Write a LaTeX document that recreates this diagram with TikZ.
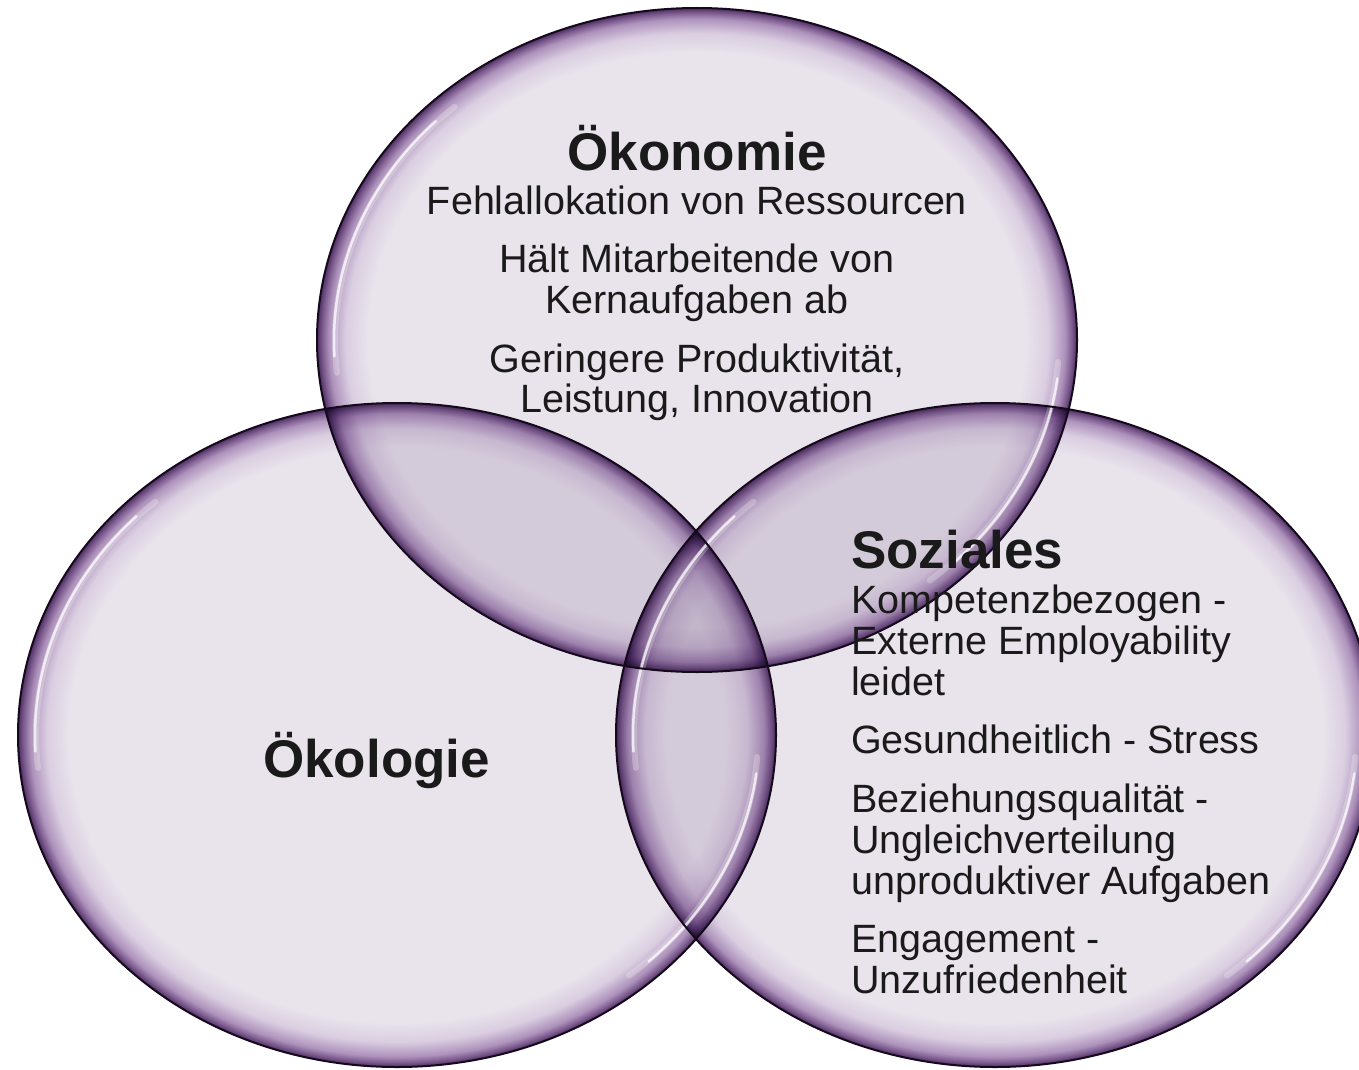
\documentclass[tikz,border=0pt]{standalone}
\usepackage{fontspec}
\setmainfont{Liberation Sans}
\definecolor{vlight}{HTML}{E9E4EC}
\definecolor{glowa}{HTML}{DACEE1}
\definecolor{glowb}{HTML}{AE92BC}
\definecolor{glowd}{HTML}{77578A}
\definecolor{glowc}{HTML}{4E2D62}
\definecolor{rimc}{HTML}{150A1C}
\definecolor{txtc}{HTML}{1A1A1A}
\pgfdeclareradialshading{ringglow}{\pgfpoint{0bp}{0bp}}{color(0bp)=(vlight); color(21.6bp)=(vlight); color(23.1bp)=(glowa); color(24.2bp)=(glowb); color(24.7bp)=(glowd); color(25bp)=(glowc); color(50bp)=(glowc)}
\begin{document}
\begin{tikzpicture}[x=1pt,y=-1pt,
  bubble/.style={shading=ringglow, blend mode=multiply},
  rim/.style={draw=rimc, line width=2pt},
  hl/.style={draw=white, line width=2.5pt, line cap=round, opacity=0.75},
  hlsoft/.style={draw=white, line width=6pt, line cap=round, opacity=0.25},
  title/.style={font=\fontsize{53pt}{55pt}\selectfont\bfseries, text=txtc, inner sep=0pt, anchor=base},
  body/.style={font=\fontsize{39.5pt}{41pt}\selectfont, text=txtc, inner sep=0pt, anchor=base},
  bodyw/.style={body, anchor=base west},
  titlew/.style={title, anchor=base west}]
\fill[white] (0,0) rectangle (1359,1070);
\useasboundingbox (0,0) rectangle (1359,1070);
% bubbles
\path[bubble] (697,340) ellipse [x radius=380pt, y radius=332pt];
\path[bubble] (397,735) ellipse [x radius=379pt, y radius=332pt];
\path[bubble] (995,735) ellipse [x radius=379pt, y radius=332pt];
% highlights
\foreach \cx/\cy/\rx in {697/340/380, 397/735/379, 995/735/379}{
  \begin{scope}[shift={(\cx,\cy)}]
    \draw[hlsoft] (132:\rx pt-18pt and 314pt) arc[start angle=132, end angle=186, x radius=\rx pt-18pt, y radius=314pt];
    \draw[hl] (136:\rx pt-17pt and 315pt) arc[start angle=136, end angle=183, x radius=\rx pt-17pt, y radius=315pt];
    \draw[hlsoft] (-4:\rx pt-18pt and 314pt) arc[start angle=-4, end angle=-50, x radius=\rx pt-18pt, y radius=314pt];
    \draw[hl] (-7:\rx pt-17pt and 315pt) arc[start angle=-7, end angle=-46, x radius=\rx pt-17pt, y radius=315pt];
  \end{scope}
}
% rims
\draw[rim] (697,340) ellipse [x radius=380pt, y radius=332pt];
\draw[rim] (397,735) ellipse [x radius=379pt, y radius=332pt];
\draw[rim] (995,735) ellipse [x radius=379pt, y radius=332pt];
% Oekonomie
\node[title] (oktitle) at (697,170) {Ökonomie};
\node[body] (ok1) at (697,214) {Fehlallokation von Ressourcen};
\node[body] (ok2a) at (697,272) {Hält Mitarbeitende von};
\node[body] (ok2b) at (697,313) {Kernaufgaben ab};
\node[body] (ok3a) at (697,372) {Geringere Produktivität,};
\node[body] (ok3b) at (697,412) {Leistung, Innovation};
% Oekologie
\node[titlew] (oltitle) at (263,777) {Ökologie};
% Soziales
\node[titlew] (sotitle) at (851,568) {Soziales};
\node[bodyw] (so1a) at (851,613) {Kompetenzbezogen -};
\node[bodyw] (so1b) at (851,654) {Externe Employability};
\node[bodyw] (so1c) at (851,695) {leidet};
\node[bodyw] (so2) at (851,753) {Gesundheitlich - Stress};
\node[bodyw] (so3a) at (851,812) {Beziehungsqualität -};
\node[bodyw] (so3b) at (851,853) {Ungleichverteilung};
\node[bodyw] (so3c) at (851,894) {unproduktiver Aufgaben};
\node[bodyw] (so4a) at (851,952) {Engagement -};
\node[bodyw] (so4b) at (851,993) {Unzufriedenheit};
\end{tikzpicture}
\end{document}
